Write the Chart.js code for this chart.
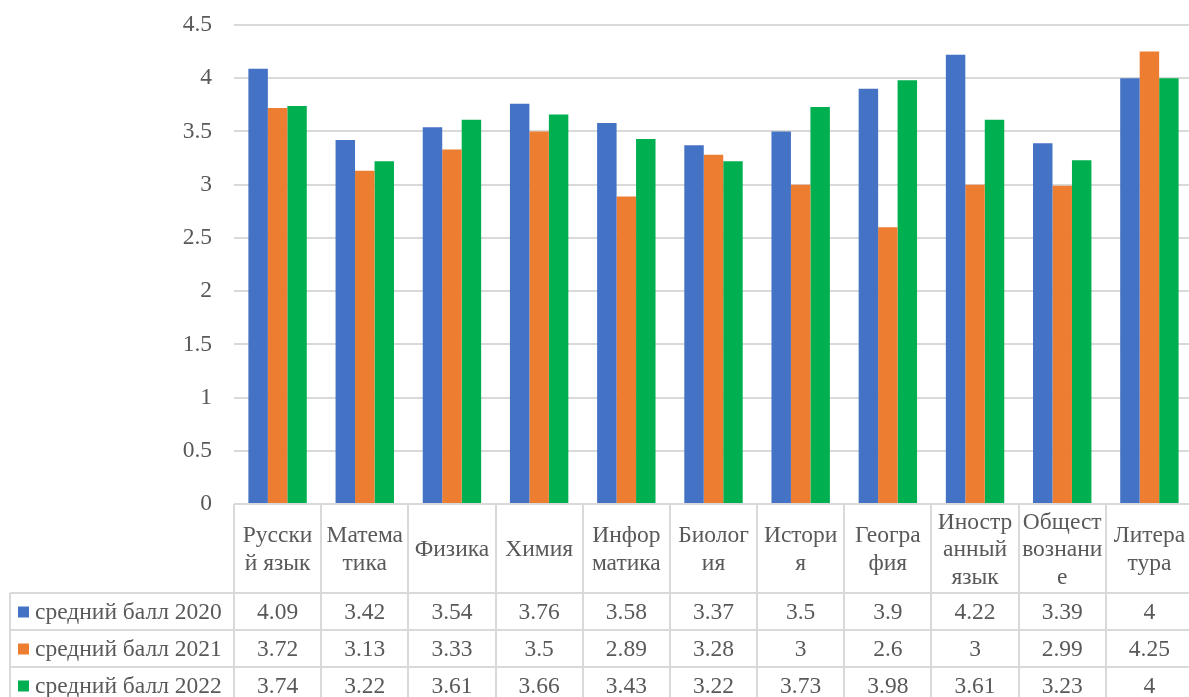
<!DOCTYPE html>
<html>
<head>
<meta charset="utf-8">
<script src="https://cdn.jsdelivr.net/npm/chart.js@4"></script>
<style>
  html, body { margin: 0; padding: 0; background: #fff; overflow: hidden; }
  #wrap { width: 1189px; height: 697px; overflow: hidden; }
</style>
</head>
<body>
<div id="wrap"><canvas id="myChart" width="1200" height="697"></canvas></div>
<script>
// subject names, split the way the table header wraps them
const subjects = [
  ["Русски", "й язык"],
  ["Матема", "тика"],
  ["Физика"],
  ["Химия"],
  ["Инфор", "матика"],
  ["Биолог", "ия"],
  ["Истори", "я"],
  ["Геогра", "фия"],
  ["Иностр", "анный", "язык"],
  ["Общест", "вознани", "е"],
  ["Литера", "тура"],
];
const seriesNames = ["средний балл 2020", "средний балл 2021", "средний балл 2022"];
const score2020 = [4.09, 3.42, 3.54, 3.76, 3.58, 3.37, 3.5, 3.9, 4.22, 3.39, 4];
const score2021 = [3.72, 3.13, 3.33, 3.5, 2.89, 3.28, 3, 2.6, 3, 2.99, 4.25];
const score2022 = [3.74, 3.22, 3.61, 3.66, 3.43, 3.22, 3.73, 3.98, 3.61, 3.23, 4];
const yTicks = [0, 0.5, 1, 1.5, 2, 2.5, 3, 3.5, 4, 4.5];

const colors = ["#4472C4", "#ED7D31", "#00B050"];
const allScores = [score2020, score2021, score2022];
const fontName = "'Liberation Serif', 'Times New Roman', serif";
const fontSize = 23.5;
const textColor = "#595959";
const lineColor = "#d9d9d9";

// Excel-style data table under the plot
const dataTable = {
  id: "dataTable",
  afterDraw(chart) {
    const ctx = chart.ctx;
    const x = chart.scales.x;
    const area = chart.chartArea;
    const step = x.getPixelForValue(1) - x.getPixelForValue(0);
    const top = area.bottom;
    const rowTops = [top + 89, top + 126, top + 163, top + 200];
    const leftEdge = 10;

    ctx.save();
    ctx.strokeStyle = lineColor;
    ctx.lineWidth = 2;

    // vertical lines
    for (let i = 0; i <= subjects.length; i++) {
      const px = Math.round(x.getPixelForValue(i) - step / 2);
      ctx.beginPath();
      ctx.moveTo(px, top);
      ctx.lineTo(px, chart.height);
      ctx.stroke();
    }
    ctx.beginPath();
    ctx.moveTo(leftEdge, rowTops[0]);
    ctx.lineTo(leftEdge, chart.height);
    ctx.stroke();

    // horizontal lines
    rowTops.forEach(function (y) {
      ctx.beginPath();
      ctx.moveTo(leftEdge, y);
      ctx.lineTo(chart.width, y);
      ctx.stroke();
    });

    ctx.fillStyle = textColor;
    ctx.font = fontSize + "px " + fontName;
    ctx.textAlign = "center";
    ctx.textBaseline = "middle";

    // header: subject names
    const headMid = top + 46;
    const lh = 27.5;
    subjects.forEach(function (lines, i) {
      const cx = x.getPixelForValue(i);
      const y0 = headMid - ((lines.length - 1) * lh) / 2;
      lines.forEach(function (t, k) {
        ctx.fillText(t, cx, y0 + k * lh);
      });
    });

    // rows: legend key + values
    allScores.forEach(function (vals, r) {
      const cy = (rowTops[r] + rowTops[r + 1]) / 2;
      ctx.textAlign = "center";
      ctx.fillStyle = textColor;
      vals.forEach(function (v, i) {
        ctx.fillText(String(v), x.getPixelForValue(i), cy + 1);
      });
      ctx.fillStyle = colors[r];
      ctx.fillRect(18, cy - 5, 11, 11);
      ctx.fillStyle = textColor;
      ctx.textAlign = "left";
      ctx.fillText(seriesNames[r], 35, cy + 1);
    });

    ctx.restore();
  },
};

const ctx = document.getElementById("myChart");

const myChart = new Chart(ctx, {
  type: "bar",
  data: {
    labels: subjects,
    datasets: allScores.map(function (vals, i) {
      return {
        label: seriesNames[i],
        data: vals,
        backgroundColor: colors[i],
        borderWidth: 0,
        barPercentage: 1,
        categoryPercentage: 0.67,
      };
    }),
  },
  options: {
    responsive: false,
    animation: false,
    layout: {
      padding: { top: 25, right: 7, bottom: 185, left: 0 },
    },
    plugins: {
      legend: { display: false },
      tooltip: { enabled: false },
    },
    scales: {
      x: {
        ticks: { display: false },
        grid: { display: false },
        border: { display: false },
      },
      y: {
        min: 0,
        max: 4.5,
        afterBuildTicks: function (scale) {
          scale.ticks = yTicks.map((v) => ({ value: v }));
        },
        afterFit: function (scale) {
          scale.width = 234;
        },
        ticks: {
          padding: 22,
          color: textColor,
          // small lineHeight so the top label doesn't push the plot down
          font: { family: fontName, size: fontSize, lineHeight: 0.2 },
          callback: (v) => String(v),
        },
        grid: { color: lineColor, lineWidth: 2, drawTicks: false },
        border: { display: false },
      },
    },
  },
  plugins: [dataTable],
});
</script>
</body>
</html>
